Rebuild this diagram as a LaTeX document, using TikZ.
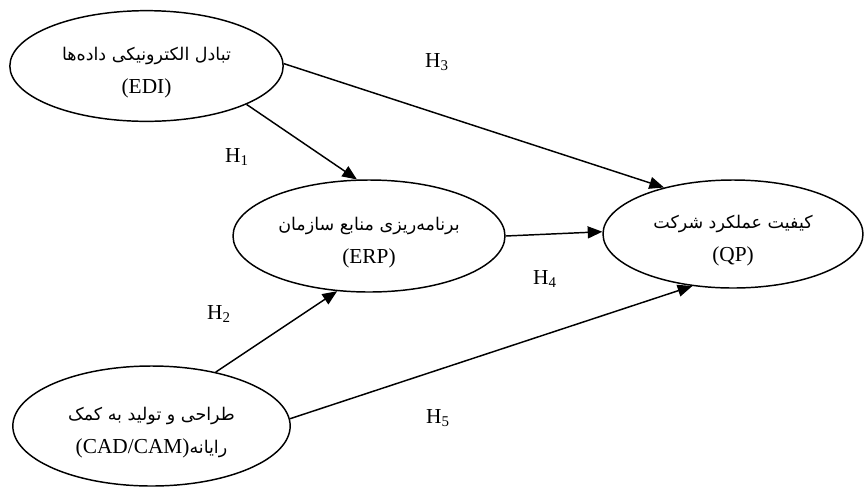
\documentclass[tikz,border=0pt]{standalone}
\usepackage{fontspec}
\setmainfont{Liberation Serif}
\newfontfamily\persianfont[Script=Arabic,Scale=0.82]{DejaVu Sans}
\TeXXeTstate=1
\usetikzlibrary{shapes.geometric,arrows.meta}

\newcommand{\fa}[1]{\rule{0pt}{20pt}{\persianfont\beginR #1\endR}}

\begin{document}
\begin{tikzpicture}[x=0.75pt,y=-0.75pt,
  construct/.style={draw,ellipse,line width=1.1pt,align=center,inner sep=0pt,
    font=\fontsize{16}{25}\selectfont},
  link/.style={line width=1.1pt,-{Triangle[length=11pt,width=9pt]}},
  hyp/.style={font=\fontsize{16}{18}\selectfont}]
\useasboundingbox (0,0) rectangle (865,487);
% Costrutti
\node (edi) at (146.5,66) [construct,minimum width=205pt,minimum height=83pt]
  {\fa{تبادل الکترونیکی داده^^^^200cها}\\(EDI)};
\node (erp) at (369,236) [construct,minimum width=204pt,minimum height=84pt]
  {\fa{برنامه^^^^200cریزی منابع سازمان}\\(ERP)};
\node (qp) at (733,234) [construct,minimum width=195pt,minimum height=81pt]
  {\fa{کیفیت عملکرد شرکت}\\(QP)};
\node (cad) at (151.5,426) [construct,minimum width=208pt,minimum height=90pt]
  {\fa{طراحی و تولید به کمک}\\{\persianfont\beginR رایانه\beginL\rmfamily\fontsize{16}{25}\selectfont(CAD/CAM)\endL\endR}};
% Ipotesi
\node (h1) at (237,157) [hyp] {H\textsubscript{1}};
\node (h2) at (219,314) [hyp] {H\textsubscript{2}};
\node (h3) at (437,62) [hyp] {H\textsubscript{3}};
\node (h4) at (545,279) [hyp] {H\textsubscript{4}};
\node (h5) at (438,418) [hyp] {H\textsubscript{5}};
% Frecce
\draw[link] (edi.-21.6) -- (erp.102);
\draw[link] (edi.1) -- (qp.146.5);
\draw[link] (erp.0) -- (qp.179);
\draw[link] (cad.40.4) -- (erp.240);
\draw[link] (cad.3.8) -- (qp.232);
\end{tikzpicture}
\end{document}
